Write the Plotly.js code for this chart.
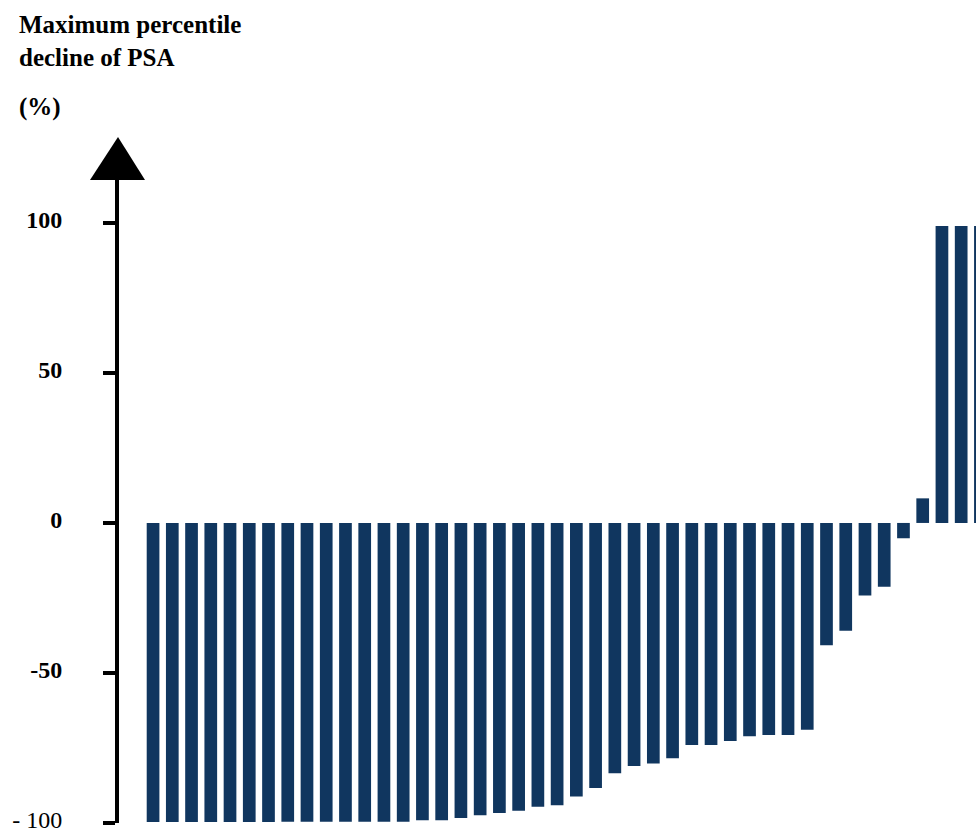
<!DOCTYPE html>
<html>
<head>
<meta charset="utf-8">
<script src="https://cdn.plot.ly/plotly-3.0.1.min.js"></script>
<style>html,body{margin:0;padding:0;background:#fff;}#chart{width:976px;height:840px;}</style>
</head>
<body>
<div id="chart"></div>
<script>
// Patient index (waterfall order)
const patients = Array.from({length: 44}, (_, i) => i + 1);
// Maximum percentile decline of PSA (%)
const psaDecline = [
  -99.7, -99.7, -99.7, -99.7, -99.7, -99.7, -99.7, -99.6, -99.6, -99.6,
  -99.6, -99.6, -99.6, -99.6, -99.1, -99.1, -98.3, -97.4, -96.7, -95.9,
  -94.6, -94.1, -91.2, -88.3, -83.4, -81.0, -80.2, -78.4, -74.0, -74.0,
  -72.7, -71.1, -70.7, -70.7, -68.9, -40.8, -35.9, -24.2, -21.3, -5.1,
  8.2, 99.0, 99.0, 99.0
];
const tickValues = [-100, -50, 0, 50, 100];
const tickLabels = ["- 100", "<b>-50</b>", "<b>0</b>", "<b>50</b>", "<b>100</b>"];
const titleLines = "Maximum percentile<br>decline of PSA";
const unitLabel = "(%)";

const W = 976, H = 840;
const mL = 119, mR = 0, mT = 180, mB = 17;
const pw = W - mL - mR, ph = H - mT - mB;
const px = x => (x - mL) / pw;
const py = y => (H - mB - y) / ph;

const serif = "Liberation Serif";

const trace = {
  type: 'bar',
  x: patients,
  y: psaDecline,
  marker: {color: '#10365f', line: {width: 0}},
  hoverinfo: 'skip'
};

const layout = {
  width: W, height: H,
  margin: {l: mL, r: mR, t: mT, b: mB, pad: 0},
  paper_bgcolor: '#ffffff',
  plot_bgcolor: '#ffffff',
  showlegend: false,
  bargap: 0.34,
  font: {family: serif},
  xaxis: {
    range: [-0.77, 43.77],
    showgrid: false, zeroline: false, showline: false,
    showticklabels: false, ticks: '', fixedrange: true
  },
  yaxis: {
    range: [-100, 114.3],
    showgrid: false, zeroline: false,
    showline: true, linewidth: 4, linecolor: '#000',
    ticks: 'outside', ticklen: 12, tickwidth: 4, tickcolor: '#000',
    tickmode: 'array', tickvals: tickValues, ticktext: tickLabels,
    tickfont: {family: serif, size: 24, color: '#000'},
    ticklabelstandoff: 36,
    ticklabelshift: -3,
    automargin: false, fixedrange: true
  },
  shapes: [{
    type: 'path', xref: 'paper', yref: 'paper',
    path: 'M ' + px(90) + ' ' + py(180) + ' L ' + px(145) + ' ' + py(180) + ' L ' + px(118) + ' ' + py(137) + ' Z',
    fillcolor: '#000', line: {width: 0}
  }],
  annotations: [
    {
      text: '<b>' + titleLines + '</b>', xref: 'paper', yref: 'paper',
      x: px(17), y: py(9), xanchor: 'left', yanchor: 'top', align: 'left',
      showarrow: false, font: {family: serif, size: 25, color: '#000'}
    },
    {
      text: '<b>' + unitLabel + '</b>', xref: 'paper', yref: 'paper',
      x: px(17), y: py(91), xanchor: 'left', yanchor: 'top', align: 'left',
      showarrow: false, font: {family: serif, size: 25, color: '#000'}
    }
  ]
};

Plotly.newPlot('chart', [trace], layout, {staticPlot: true, displayModeBar: false});
</script>
</body>
</html>
